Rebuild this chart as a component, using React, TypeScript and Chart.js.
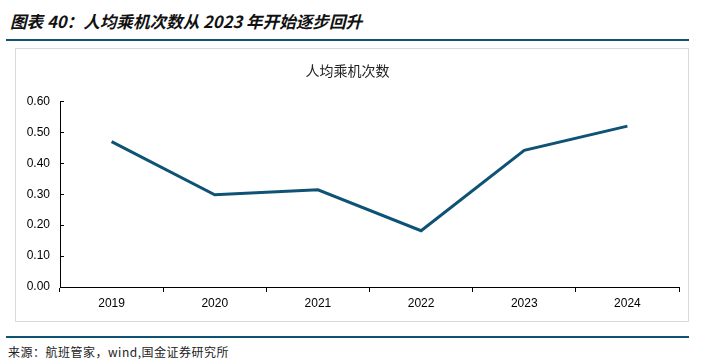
import React, { useEffect, useRef } from "react";
import { Chart, registerables } from "chart.js";

Chart.register(...registerables);

const categories = ["2019", "2020", "2021", "2022", "2023", "2024"];
const flightsPerCapita = [0.47, 0.298, 0.314, 0.182, 0.442, 0.52];
const yTickValues = [0, 0.1, 0.2, 0.3, 0.4, 0.5, 0.6];

const pageTitle = "图表 40：人均乘机次数从 2023 年开始逐步回升";
const chartTitle = "人均乘机次数";
const sourceNote = "来源：航班管家，wind,国金证券研究所";

const TEAL = "#0e5275";

const innerTicks = {
  id: "innerTicks",
  afterDraw(chart: any) {
    const { ctx, chartArea } = chart;
    const y = chart.scales.y;
    ctx.save();
    ctx.strokeStyle = "#000";
    ctx.lineWidth = 1;
    y.ticks.forEach((t: any, i: number) => {
      const py = Math.round(y.getPixelForTick(i)) + 0.5;
      ctx.beginPath();
      ctx.moveTo(chartArea.left, py);
      ctx.lineTo(chartArea.left + 4, py);
      ctx.stroke();
    });
    ctx.restore();
  },
};

export default function App() {
  const ref = useRef<HTMLCanvasElement | null>(null);

  useEffect(() => {
    if (!ref.current) return;
    const chart = new Chart(ref.current, {
      type: "line",
      data: {
        labels: categories,
        datasets: [
          {
            label: chartTitle,
            data: flightsPerCapita,
            borderColor: TEAL,
            backgroundColor: TEAL,
            borderWidth: 3,
            pointRadius: 0,
            tension: 0,
          },
        ],
      },
      options: {
        animation: false,
        responsive: false,
        layout: { padding: { left: 0, right: 10, top: 0, bottom: 0 } },
        plugins: {
          legend: { display: false },
          tooltip: { enabled: false },
          title: {
            display: true,
            text: chartTitle,
            color: "#222",
            font: { family: "'Noto Sans CJK SC'", size: 14, weight: "normal", lineHeight: 1.1 },
            padding: { top: 14, bottom: 23 },
          },
        },
        scales: {
          x: {
            offset: true,
            grid: {
              offset: true,
              drawOnChartArea: false,
              drawTicks: true,
              tickLength: 5,
              color: "#000",
            },
            border: { display: true, color: "#000", width: 1 },
            ticks: {
              color: "#000",
              padding: 4,
              font: { family: "'Liberation Sans', Arial", size: 12 },
            },
            afterFit: (s: any) => {
              s.height = 34;
            },
          },
          y: {
            min: 0,
            max: 0.6,
            afterBuildTicks: (s: any) => {
              s.ticks = yTickValues.map((v) => ({ value: v }));
            },
            grid: { drawOnChartArea: false, drawTicks: false },
            border: { display: true, color: "#000", width: 1 },
            ticks: {
              color: "#000",
              padding: 10,
              font: { family: "'Liberation Sans', Arial", size: 12 },
              callback: (v: any) => Number(v).toFixed(2),
            },
            afterFit: (s: any) => {
              s.width = 44;
            },
          },
        },
      },
      plugins: [innerTicks],
    });
    return () => chart.destroy();
  }, []);

  return (
    <div
      style={{
        position: "fixed",
        left: 0,
        top: 0,
        width: 708,
        height: 362,
        background: "#fff",
        overflow: "hidden",
        fontFamily: "'Noto Sans CJK SC', sans-serif",
      }}
    >
      <div
        style={{
          position: "absolute",
          left: 10,
          top: 13,
          fontSize: 16.6,
          lineHeight: "17px",
          fontWeight: "bold",
          fontStyle: "italic",
          color: "#111",
          whiteSpace: "nowrap",
        }}
      >
        {pageTitle}
      </div>
      <div style={{ position: "absolute", left: 6, top: 39, width: 683, height: 2, background: TEAL }} />
      <div
        style={{
          position: "absolute",
          left: 15,
          top: 48,
          width: 674,
          height: 274,
          boxSizing: "border-box",
          border: "1px solid #d9d9d9",
        }}
      />
      <canvas
        ref={ref}
        width={673}
        height={272}
        style={{ position: "absolute", left: 16, top: 49, width: 673, height: 272 }}
      />
      <div style={{ position: "absolute", left: 6, top: 336, width: 683, height: 2, background: TEAL }} />
      <div
        style={{
          position: "absolute",
          left: 8,
          top: 345,
          fontSize: 12,
          lineHeight: "13px",
          letterSpacing: "0.5px",
          color: "#222",
          whiteSpace: "nowrap",
        }}
      >
        {sourceNote}
      </div>
    </div>
  );
}
